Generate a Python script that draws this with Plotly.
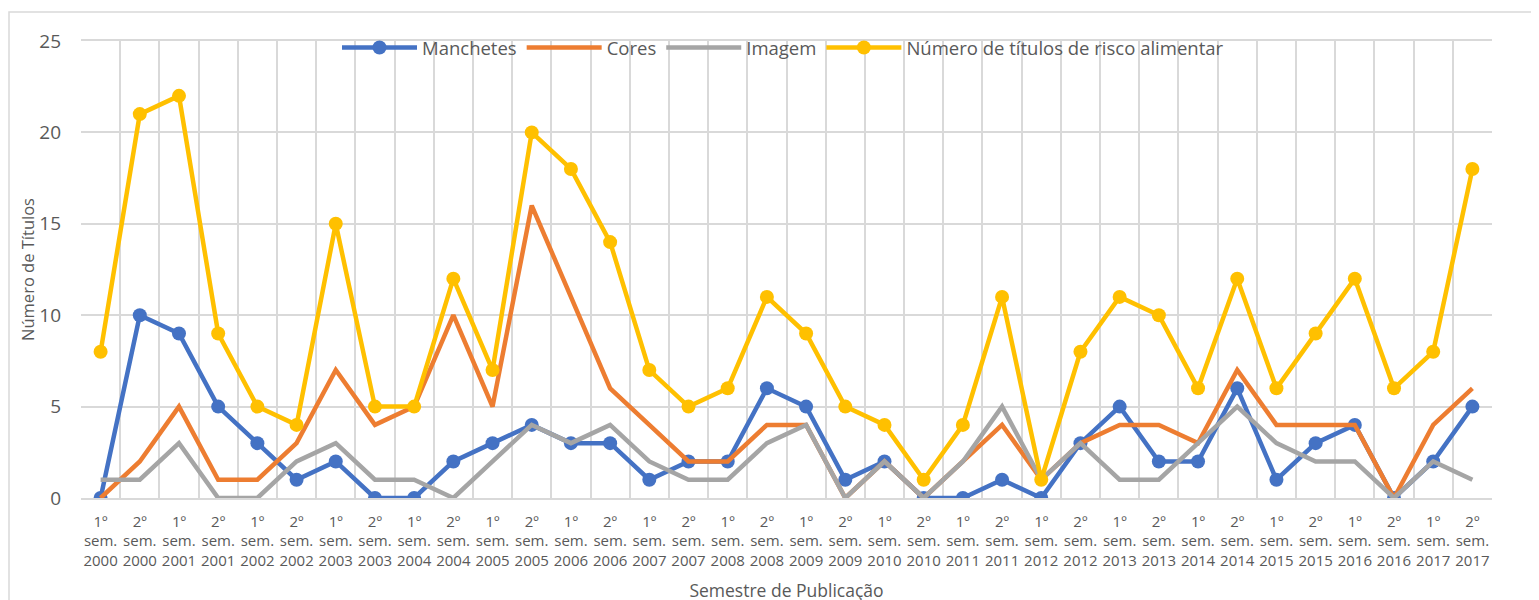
import plotly.graph_objects as go

categories = [f"{s}º<br>sem.<br>{y}" for y in range(2000, 2018) for s in (1, 2)]

manchetes = [0, 10, 9, 5, 3, 1, 2, 0, 0, 2, 3, 4, 3, 3, 1, 2, 2, 6, 5, 1, 2, 0, 0, 1, 0, 3, 5, 2, 2, 6, 1, 3, 4, 0, 2, 5]
cores = [0, 2, 5, 1, 1, 3, 7, 4, 5, 10, 5, 16, 11, 6, 4, 2, 2, 4, 4, 0, 2, 0, 2, 4, 1, 3, 4, 4, 3, 7, 4, 4, 4, 0, 4, 6]
imagem = [1, 1, 3, 0, 0, 2, 3, 1, 1, 0, 2, 4, 3, 4, 2, 1, 1, 3, 4, 0, 2, 0, 2, 5, 1, 3, 1, 1, 3, 5, 3, 2, 2, 0, 2, 1]
risco = [8, 21, 22, 9, 5, 4, 15, 5, 5, 12, 7, 20, 18, 14, 7, 5, 6, 11, 9, 5, 4, 1, 4, 11, 1, 8, 11, 10, 6, 12, 6, 9, 12, 6, 8, 18]

FONT = "Open Sans"
TXT = "#595959"

# screen-space plot area (page body has an 8px margin)
PL, PR, PT, PB = 81, 1492, 41, 498
OFF = 8
W, H = 1539, 600
pw, ph = PR - PL, PB - PT

fig = go.Figure()
fig.add_trace(go.Scatter(x=categories, y=manchetes, name="Manchetes", mode="lines+markers",
                         line=dict(color="#4472C4", width=4.5), marker=dict(size=14, color="#4472C4")))
fig.add_trace(go.Scatter(x=categories, y=cores, name="Cores", mode="lines",
                         line=dict(color="#ED7D31", width=4.5)))
fig.add_trace(go.Scatter(x=categories, y=imagem, name="Imagem", mode="lines",
                         line=dict(color="#A5A5A5", width=4.5)))
fig.add_trace(go.Scatter(x=categories, y=risco, name="Número de títulos de risco alimentar", mode="lines+markers",
                         line=dict(color="#FFC000", width=4.5), marker=dict(size=14, color="#FFC000")))

fig.update_layout(
    width=W, height=H,
    margin=dict(l=PL - OFF, r=W + OFF - PR, t=PT - OFF, b=H + OFF - PB),
    paper_bgcolor="white", plot_bgcolor="white",
    font=dict(family=FONT, color=TXT),
    legend=dict(orientation="h", x=(783 - PL) / pw, xanchor="center",
                y=1 - (48 - PT) / ph, yanchor="middle",
                bgcolor="rgba(0,0,0,0)", font=dict(size=18.5, color=TXT), itemwidth=75,
                tracegroupgap=0),
    shapes=[dict(type="rect", xref="paper", yref="paper",
                 x0=(9 - PL) / pw, x1=(1560 - PL) / pw,
                 y0=-0.4, y1=1 + (PT - 12) / ph,
                 line=dict(color="#d9d9d9", width=1.5), fillcolor="rgba(0,0,0,0)", layer="below")],
)
fig.update_xaxes(
    type="category", range=[-0.5, len(categories) - 0.5], tickson="boundaries",
    showgrid=True, gridcolor="#d9d9d9", gridwidth=1.5, automargin=False,
    ticks="", tickfont=dict(size=15, color=TXT), tickangle=0,
    showline=True, linecolor="#d9d9d9", linewidth=1.5, mirror=True,
    title=dict(text="Semestre de Publicação", font=dict(size=17.5, color=TXT), standoff=16),
    ticklabelstandoff=9,
)
fig.update_yaxes(
    range=[0, 25], dtick=5, showgrid=True, gridcolor="#d9d9d9", gridwidth=1.5,
    zeroline=False, ticks="", tickfont=dict(size=19, color=TXT), ticklabelstandoff=19,
    automargin=False,
    title=dict(text="Número de Títulos", font=dict(size=16.5, color=TXT), standoff=0),
)

fig.write_html("out.html")
